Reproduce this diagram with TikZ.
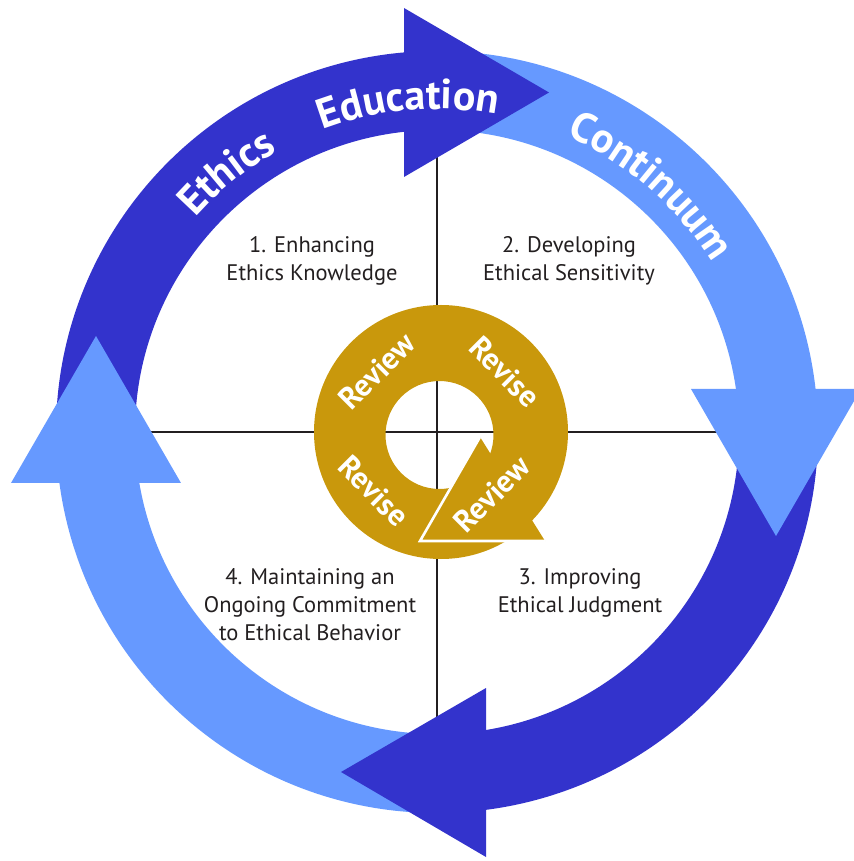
\documentclass[tikz,border=0pt]{standalone}
\usepackage{fontspec}
\setmainfont{PT Sans}
\usetikzlibrary{decorations.text}
\definecolor{ringdark}{HTML}{3333CC}
\definecolor{ringlight}{HTML}{6699FF}
\definecolor{gold}{RGB}{201,152,12}
\definecolor{ink}{HTML}{231F20}
\newcommand\arcfont{\fontsize{42}{42}\selectfont\bfseries}
\begin{document}
\begin{tikzpicture}[x=1pt,y=1pt,
  divider/.style={line width=1.8pt, ink},
  stage/.style={font=\fontsize{22.5}{28}\selectfont, align=center, inner sep=0pt, text=ink},
  goldword/.style={font=\fontsize{31}{31}\selectfont\bfseries, text=white, inner sep=0pt},
  arctext/.style={decorate, decoration={text along path, text align=center,
      text color=white, text={|\arcfont|#1}}}
]
\useasboundingbox (-437,-429) rectangle (416,432);

% quadrant dividers (ends hidden under the arrowheads)
\coordinate (vtop) at (0,300);
\coordinate (vbot) at (0,-300);
\coordinate (hleft) at (-300,0);
\coordinate (hright) at (300,0);
\draw[divider] (vtop) -- (vbot);
\draw[divider] (hleft) -- (hright);

% outer ring: four annular sectors
\fill[ringdark] (94:381) arc[start angle=94,end angle=180,radius=381]
  -- (180:302) arc[start angle=180,end angle=94,radius=302] -- cycle;
\fill[ringlight] (5:381) arc[start angle=5,end angle=90,radius=381]
  -- (90:302) arc[start angle=90,end angle=5,radius=302] -- cycle;
\fill[ringdark] (-84:381) arc[start angle=-84,end angle=0,radius=381]
  -- (0:302) arc[start angle=0,end angle=-84,radius=302] -- cycle;
\fill[ringlight] (-174:381) arc[start angle=-174,end angle=-90,radius=381]
  -- (-90:302) arc[start angle=-90,end angle=-174,radius=302] -- cycle;

% arrowheads of the outer ring
\fill[ringdark] (-33,424) -- (112,339.5) -- (-33,255) -- cycle;
\fill[ringlight] (254,43) -- (339,-104) -- (424,43) -- cycle;
\fill[ringdark] (49,-256) -- (-96,-340) -- (49,-425) -- cycle;
\fill[ringlight] (-426,-51) -- (-341,96) -- (-256,-51) -- cycle;

% central review/revise cycle
\fill[gold, even odd rule] (4,0) circle[radius=127] (2.5,-3) circle[radius=54];
\path[fill=gold, draw=white, line width=2.6pt, line join=miter]
  (43,-5) -- (-17,-109) -- (108,-109);

\node[goldword, rotate=45]  (rv1) at (-60,61)  {Review};
\node[goldword, rotate=-45] (rs1) at (68,60)   {Revise};
\node[goldword, rotate=-45] (rs2) at (-63,-59) {Revise};
\node[goldword, rotate=45]  (rv2) at (55,-62)  {Review};

% lettering along the ring
\path[arctext=Ethics] (152:323) arc[start angle=152,end angle=106,radius=323];
\path[arctext=Education] (125:323) arc[start angle=125,end angle=65,radius=323];
\path[arctext=Continuum] (88:323) arc[start angle=88,end angle=10,radius=323];

% the four stages
\node[stage] (s1) at (-125,171) {1. Enhancing\\Ethics Knowledge};
\node[stage] (s2) at (132,171) {2. Developing\\Ethical Sensitivity};
\node[stage] (s3) at (143,-161) {3. Improving\\Ethical Judgment};
\node[stage] (s4) at (-127,-173) {4. Maintaining an\\Ongoing Commitment\\to Ethical Behavior};
\end{tikzpicture}
\end{document}
